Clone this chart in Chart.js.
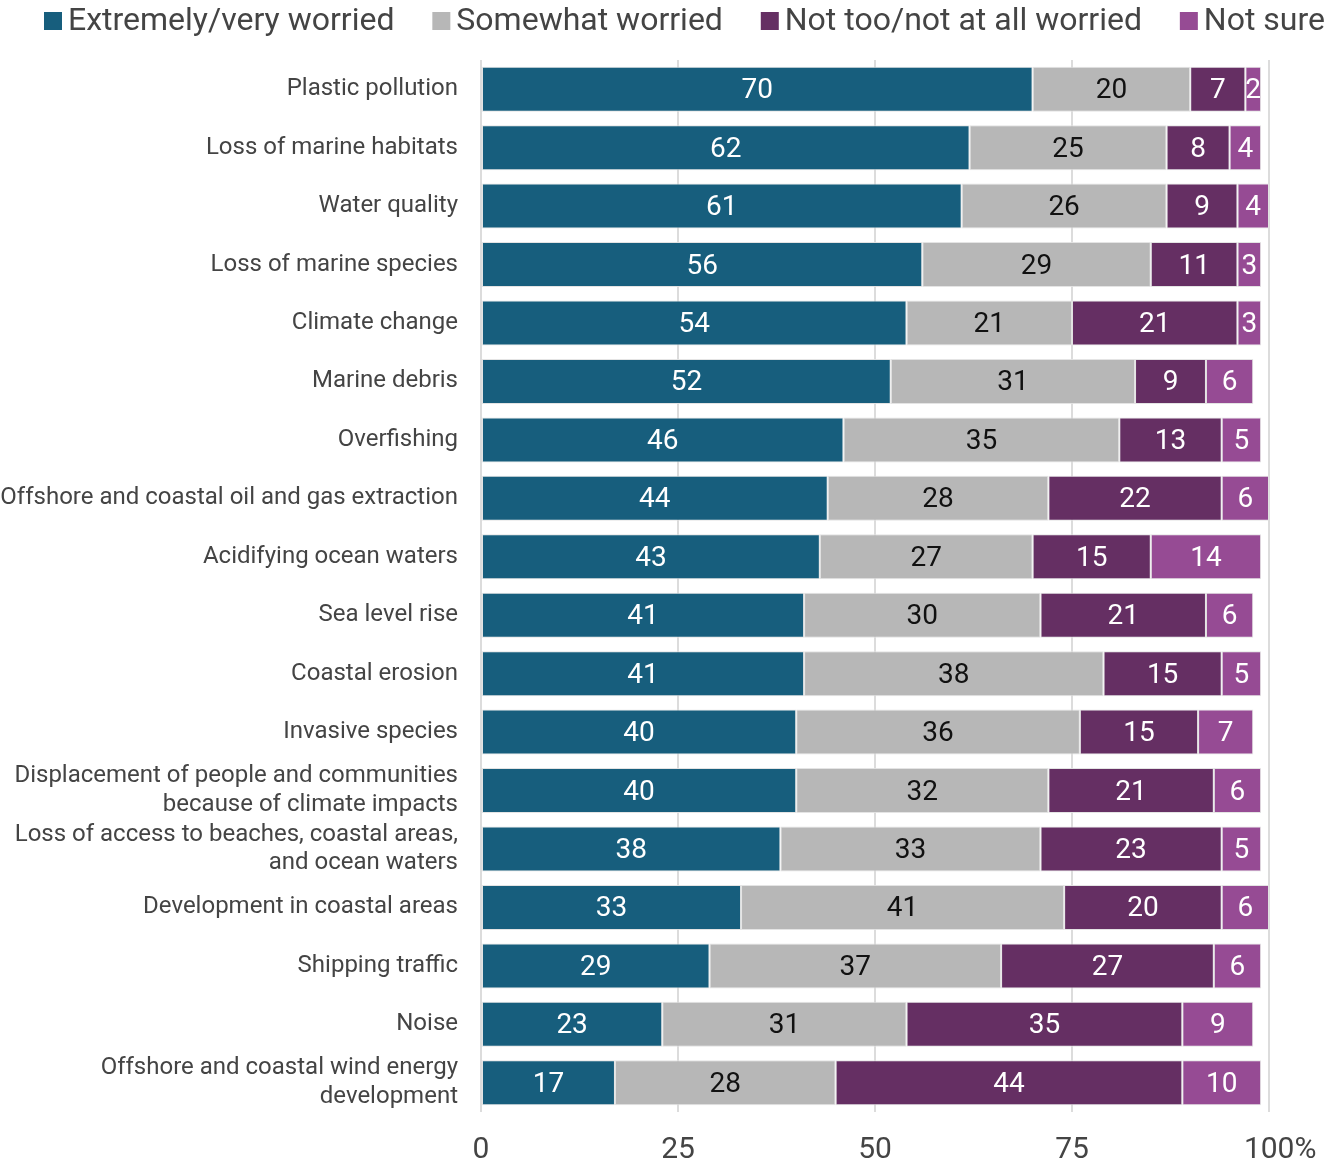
<!DOCTYPE html>
<html lang="en">
<head>
    <meta charset="UTF-8">
    <title>Ocean concerns</title>
    <style>
        html, body {
            margin: 0;
            padding: 0;
            background: #fff;
        }
        #wrap {
            width: 1341px;
            height: 1163px;
            position: relative;
        }
    </style>
</head>
<body>
    <div id="wrap">
        <canvas id="chart"></canvas>
    </div>

    <script src="https://cdn.jsdelivr.net/npm/chart.js"></script>

    <script>
        const issues = [
            "Plastic pollution",
            "Loss of marine habitats",
            "Water quality",
            "Loss of marine species",
            "Climate change",
            "Marine debris",
            "Overfishing",
            "Offshore and coastal oil and gas extraction",
            "Acidifying ocean waters",
            "Sea level rise",
            "Coastal erosion",
            "Invasive species",
            ["Displacement of people and communities", "because of climate impacts"],
            ["Loss of access to beaches, coastal areas,", "and ocean waters"],
            "Development in coastal areas",
            "Shipping traffic",
            "Noise",
            ["Offshore and coastal wind energy", "development"]
        ];

        const veryWorried     = [70, 62, 61, 56, 54, 52, 46, 44, 43, 41, 41, 40, 40, 38, 33, 29, 23, 17];
        const somewhatWorried = [20, 25, 26, 29, 21, 31, 35, 28, 27, 30, 38, 36, 32, 33, 41, 37, 31, 28];
        const notWorried      = [7, 8, 9, 11, 21, 9, 13, 22, 15, 21, 15, 15, 21, 23, 20, 27, 35, 44];
        const notSure         = [2, 4, 4, 3, 3, 6, 5, 6, 14, 6, 5, 7, 6, 5, 6, 6, 9, 10];

        const seriesNames = ["Extremely/very worried", "Somewhat worried", "Not too/not at all worried", "Not sure"];
        const xTicks = [0, 25, 50, 75, 100];

        const colors = ["#175e7d", "#b7b7b7", "#652f63", "#964b94"];
        const labelColors = ["#ffffff", "#111111", "#ffffff", "#ffffff"];
        const font = "Roboto, 'Noto Sans', sans-serif";

        // numbers in the middle of each segment
        const segmentLabels = {
            id: "segmentLabels",
            afterDatasetsDraw(chart) {
                const ctx = chart.ctx;
                ctx.save();
                ctx.font = "28px " + font;
                ctx.textAlign = "center";
                ctx.textBaseline = "middle";
                chart.data.datasets.forEach((ds, i) => {
                    const meta = chart.getDatasetMeta(i);
                    meta.data.forEach((bar, j) => {
                        const mid = (bar.x + bar.base) / 2;
                        ctx.fillStyle = labelColors[i];
                        ctx.fillText(ds.data[j], mid, bar.y + 2);
                    });
                });
                ctx.restore();
            }
        };

        // one-row legend spread across the top, box close to its text
        const topLegend = {
            id: "topLegend",
            afterDraw(chart) {
                const ctx = chart.ctx;
                const left = 44, right = 1325, box = 18, gapText = 6, y = 21;
                ctx.save();
                ctx.font = "32px " + font;
                ctx.textBaseline = "middle";
                const widths = seriesNames.map(n => box + gapText + ctx.measureText(n).width);
                const total = widths.reduce((a, b) => a + b, 0);
                const gap = (right - left - total) / (seriesNames.length - 1);
                let x = left;
                seriesNames.forEach((n, i) => {
                    ctx.fillStyle = colors[i];
                    ctx.fillRect(x, y - box / 2, box, box);
                    ctx.fillStyle = "#444";
                    ctx.fillText(n, x + box + gapText, y + 1);
                    x += widths[i] + gap;
                });
                ctx.restore();
            }
        };

        const ctx = document.getElementById("chart").getContext("2d");
        new Chart(ctx, {
            type: "bar",
            data: {
                labels: issues,
                datasets: [veryWorried, somewhatWorried, notWorried, notSure].map((d, i) => ({
                    label: seriesNames[i],
                    data: d,
                    backgroundColor: colors[i],
                    borderColor: "rgba(225,225,225,0.9)",
                    borderWidth: 1,
                    borderSkipped: false,
                    barPercentage: 0.77,
                    categoryPercentage: 1
                }))
            },
            options: {
                indexAxis: "y",
                responsive: true,
                maintainAspectRatio: false,
                animation: false,
                layout: {
                    padding: { left: 0, right: 72, top: 60, bottom: 0 }
                },
                plugins: {
                    legend: { display: false },
                    tooltip: { enabled: false }
                },
                scales: {
                    x: {
                        stacked: true,
                        min: 0,
                        max: 100,
                        afterBuildTicks(scale) {
                            scale.ticks = xTicks.map(v => ({ value: v }));
                        },
                        afterFit(scale) {
                            scale.height = 51;
                        },
                        grid: {
                            color: "#dcdcdc",
                            lineWidth: 2,
                            drawTicks: false
                        },
                        border: { display: false },
                        ticks: {
                            padding: 20,
                            color: "#444",
                            font: { family: font, size: 30 },
                            // keep "100" over its gridline, the % hangs to the right
                            callback: v => v === 100 ? "   100%" : v
                        }
                    },
                    y: {
                        stacked: true,
                        grid: { display: false },
                        border: { display: false },
                        afterFit(scale) {
                            scale.width = 481;
                        },
                        ticks: {
                            autoSkip: false,
                            padding: 15,
                            color: "#444",
                            font: { family: font, size: 24, lineHeight: 1.2 }
                        }
                    }
                }
            },
            plugins: [segmentLabels, topLegend]
        });
    </script>
</body>
</html>
